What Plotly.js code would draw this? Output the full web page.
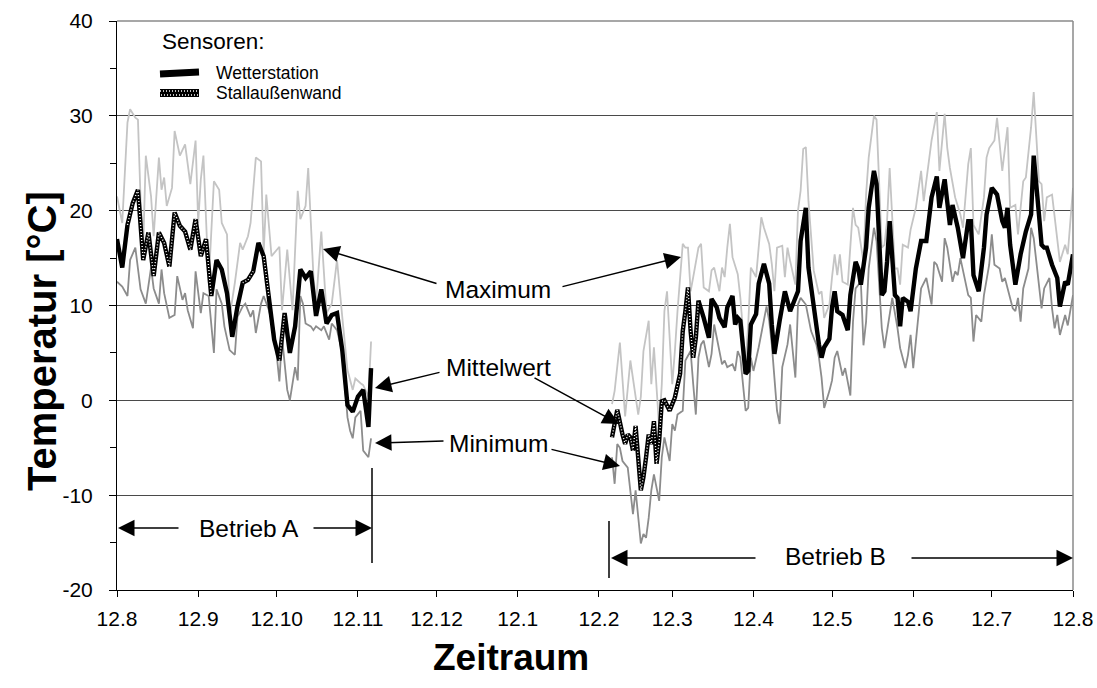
<!DOCTYPE html>
<html>
<head>
<meta charset="utf-8">
<script src="https://cdn.plot.ly/plotly-3.0.1.min.js"></script>
<style>html,body{margin:0;padding:0;background:#fff;}#chart{width:1097px;height:688px;}</style>
</head>
<body>
<div id="chart"></div>
<script>
// ---- data (day offsets from 1 Aug 2012, temperature in °C) ----
const tickLabels = ['12.8','12.9','12.10','12.11','12.12','12.1','12.2','12.3','12.4','12.5','12.6','12.7','12.8'];
const yTickVals = [-20,-10,0,10,20,30,40];
const yTickLabels = ['-20','-10','0','10','20','30','40'];

// Betrieb A
const maxA_day = [0,2,4,5,7,8,9,10,11,13,14,16,17,18,19,21,22,24,26,27,28,30,31,32,33,35,37,39,40,42,43,45,47,48,50,51,53,55,56,57,59,62,63,65,67,69,70,72,73,75,76,78,80,82,84,86,88,90,91,93,94,96,97];
const maxA = [21.5,18.7,29.3,30.7,29.8,29.6,21.2,16.2,25.8,21.5,17.3,25.6,22.2,23.5,20.5,22.4,28.4,25.8,27.0,24.7,22.8,27.4,18.7,23.3,25.8,12.4,23.1,22.2,18.7,17.5,8.8,12.4,16.6,15.9,17.3,18.7,25.6,25.2,15.5,21.7,15.2,16.2,9.5,15.9,9.5,22.1,19.1,20.5,24.5,13.1,10.2,17.8,9.2,10.2,14.8,8.8,3.2,1.1,2.3,1.8,1.6,0.4,6.2];

const meanA_day = [0,2,4,6,8,10,12,14,16,18,20,22,24,26,28,30,32,34,36,38,40,42,44,46,48,50,52,54,56,58,60,62,64,66,68,70,72,74,76,78,80,82,84,86,88,90,92,94,96,97];
const meanA = [17.0,14.0,18.5,20.8,22.2,14.8,17.7,13.1,17.7,16.6,14.1,19.8,18.4,17.8,15.9,19.1,15.2,17.0,11.0,14.8,13.8,11.3,6.7,9.9,12.4,12.7,13.6,16.6,15.2,11.0,6.4,4.2,9.2,5.0,7.8,13.8,12.9,13.6,8.9,11.7,8.1,9.0,9.2,5.3,-0.5,-1.2,0.4,1.1,-2.8,3.4];

const minA_day = [0,2,4,5,7,8,9,11,13,14,16,17,18,20,22,23,25,26,27,29,30,32,33,35,37,38,40,41,43,45,46,48,49,51,52,53,55,56,58,60,62,63,65,66,68,69,70,71,72,74,75,76,78,79,81,82,84,86,88,89,90,91,93,94,96,97];
const minA = [12.5,12.0,11.0,14.8,16.1,13.8,11.7,10.2,14.0,11.8,10.2,13.8,11.3,8.7,9.0,13.1,10.6,11.3,9.5,7.6,13.6,9.2,11.3,11.0,5.0,11.7,10.2,7.8,5.3,4.8,8.8,9.9,10.2,8.8,9.5,7.1,10.2,11.0,9.5,7.4,2.0,6.7,1.1,0.0,3.5,2.1,11.0,10.2,8.1,7.8,7.4,7.8,7.4,7.8,6.4,8.1,7.4,5.0,-1.8,-3.2,-4.0,-1.8,-1.1,-5.3,-6.0,-4.0];

// Betrieb B
const maxB_day = [189,190,192,194,196,197,199,200,201,203,204,205,207,208,209,210,212,213,214,216,217,218,219,220,222,223,224,226,227,228,230,231,232,233,234,235,237,238,240,241,242,244,246,247,249,250,251,252,254,255,256,257,259,260,261,262,263,264,266,268,269,270,272,273,274,275,276,277,279,281,282,283,285,286,287,289,290,292,293,294,295,297,298,299,300,302,303,305,307,308,310,311,313,314,316,317,318,320,322,323,325,326,327,329,331,332,333,335,336,338,340,341,343,344,346,347,349,350,352,353,354,355,357,359,360,362,363,365];
const maxB = [-0.4,1.0,6.1,-1.7,4.2,2.1,-1.5,0.4,5.2,8.4,1.7,5.6,-2.9,1.7,9.4,11.5,1.7,5.2,9.4,16.5,16.1,16.1,11.5,13.0,16.1,16.5,11.9,11.5,13.7,14.0,11.5,14.0,13.0,16.1,18.6,15.1,13.3,10.8,3.8,8.0,14.0,13.0,19.3,18.2,16.5,14.4,11.5,16.1,16.3,13.0,16.1,14.7,12.2,20.0,22.1,26.5,26.7,21.0,13.7,11.2,11.5,8.7,10.1,13.0,15.4,13.2,15.4,12.5,12.2,20.3,18.5,18.2,14.6,21.7,25.6,30.0,29.6,16.1,16.4,18.9,24.5,13.9,13.9,12.2,16.4,16.1,18.0,20.3,24.2,21.0,25.2,27.4,30.4,24.2,30.2,26.6,24.5,21.4,19.6,18.2,24.9,26.6,18.5,17.5,21.4,25.6,26.6,27.4,29.8,24.2,28.8,20.3,20.6,17.5,23.1,23.5,28.8,32.5,23.1,22.8,18.9,21.4,21.7,17.1,14.6,16.4,15.4,22.4];

const meanB_day = [189,191,193,194,195,196,197,198,200,201,202,203,204,205,206,207,208,209,211,212,213,215,216,217,218,219,220,221,222,224,226,227,229,230,232,233,235,236,237,238,240,241,242,244,245,247,249,250,251,253,255,257,258,260,261,263,264,266,268,269,270,272,273,274,275,277,279,280,282,283,284,286,287,289,290,292,293,294,295,297,298,299,300,302,303,305,307,309,310,311,313,314,316,318,319,321,323,325,326,327,329,331,332,334,336,338,339,340,341,343,345,347,349,350,352,353,354,355,357,359,360,362,363,365];
const meanB = [-3.9,-1.0,-3.6,-4.6,-3.6,-3.9,-5.3,-2.7,-9.5,-8.1,-6.0,-3.6,-4.6,-2.2,-6.7,-4.3,-0.1,0.0,-1.1,-0.4,0.3,2.8,7.3,9.4,11.9,7.3,4.5,6.6,10.5,8.7,6.6,10.7,9.8,8.7,7.7,9.8,11.0,8.0,8.7,8.4,2.8,3.1,8.0,9.1,12.3,14.4,12.3,8.0,4.9,8.4,11.5,9.4,10.1,11.5,16.8,20.3,14.0,9.8,5.9,4.5,5.6,6.5,9.8,11.5,9.4,9.0,7.4,11.1,14.6,13.9,12.2,16.1,20.3,24.2,22.8,11.1,11.5,14.6,18.9,11.1,10.8,7.8,10.8,10.4,9.4,13.9,16.8,16.8,19.2,21.4,23.6,20.3,23.3,18.5,20.6,18.2,15.0,18.9,18.9,13.2,11.5,16.1,19.6,22.4,21.7,18.9,18.2,20.3,16.4,12.2,15.4,17.8,19.6,25.8,19.6,16.4,16.1,16.1,14.3,12.9,9.9,12.5,12.2,15.4];

const minB_day = [189,190,191,192,193,195,197,198,200,201,202,203,204,205,207,208,209,211,212,213,214,216,217,219,220,221,222,223,224,226,227,228,229,231,232,233,235,236,237,238,240,241,242,243,245,247,248,249,250,252,253,254,256,257,259,260,261,263,264,265,267,268,269,270,272,273,274,275,277,278,280,281,282,284,285,286,287,289,290,292,293,295,296,298,299,301,302,303,304,305,306,307,309,311,312,313,315,316,317,319,320,321,322,325,326,327,328,330,331,333,334,335,337,338,339,340,342,343,344,345,346,348,349,350,352,353,354,356,357,358,359,360,362,363,365];
const minB = [-6.0,-8.8,-4.6,-5.0,-6.4,-7.1,-12.0,-9.5,-15.1,-14.1,-14.5,-12.4,-9.5,-7.8,-10.6,-6.0,-3.9,-6.4,-2.5,-3.2,-1.5,-1.1,4.2,5.2,1.7,-1.5,4.5,5.9,6.3,3.5,4.9,8.0,6.6,3.8,4.2,3.5,3.8,3.1,5.2,4.5,-1.1,-0.8,4.5,3.1,5.6,8.7,9.9,8.4,5.9,-1.1,-2.5,3.5,5.9,8.0,2.4,10.1,10.8,10.1,8.7,7.3,5.9,4.5,2.4,-0.8,1.0,2.1,4.5,5.2,2.6,3.4,0.5,8.3,11.8,12.5,5.8,8.3,13.9,18.2,16.8,7.6,5.5,9.0,10.8,7.6,5.5,3.4,4.8,6.9,3.4,6.2,9.0,11.8,12.9,10.1,14.6,14.3,12.5,17.1,16.1,12.5,13.6,13.2,15.0,11.1,10.8,6.2,9.0,8.3,11.1,14.3,17.5,14.3,13.9,12.5,12.9,11.8,9.7,9.4,10.8,8.3,11.8,13.9,18.2,17.1,12.5,9.7,11.8,12.9,9.7,7.6,9.0,6.9,9.0,7.9,11.1];

// day ranges where the mean came from the "Stallaußenwand" sensor
const hatchA = [[4,36],[48,52],[56,58],[62,64]];
const hatchB = [[189,222]];

// ---- helpers ----
const start = Date.UTC(2012,7,1);
const monthTicks = [];
for (let i=0;i<13;i++){ monthTicks.push(Math.round((Date.UTC(2012,7+i,1)-start)/86400000)); }

function subset(days, vals, ranges){
  const x=[], y=[];
  ranges.forEach((r,k)=>{
    if(k>0){x.push(null);y.push(null);}
    days.forEach((d,i)=>{ if(d>=r[0] && d<=r[1]){x.push(d);y.push(vals[i]);} });
  });
  return {x,y};
}
const L=117,R=1073,T=21,B=590;
const fx = px => (px-L)/(R-L);
const fy = py => (B-py)/(B-T);
const FONT = 'Liberation Sans, Arial, sans-serif';

const cMax='#c4c4c4', cMin='#8c8c8c';
const traces = [];
function line(x,y,color,width,dash){
  traces.push({type:'scatter',mode:'lines',x:x,y:y,line:{color:color,width:width,dash:dash||'solid'},connectgaps:false,hoverinfo:'skip',showlegend:false});
}
line(maxA_day,maxA,cMax,1.8);
line(maxB_day,maxB,cMax,1.8);
line(minA_day,minA,cMin,1.8);
line(minB_day,minB,cMin,1.8);
line(meanA_day,meanA,'#000',4.4);
line(meanB_day,meanB,'#000',4.4);
const hA = subset(meanA_day,meanA,hatchA), hB = subset(meanB_day,meanB,hatchB);
line(hA.x,hA.y,'#ffffff',1.4,'1px,2px');
line(hB.x,hB.y,'#ffffff',1.4,'1px,2px');

// ---- annotations ----
const ann = [];
function txt(px,py,t,size,opts){
  ann.push(Object.assign({xref:'paper',yref:'paper',x:fx(px),y:fy(py),text:t,showarrow:false,
    font:{family:FONT,size:size,color:'#000'},xanchor:'center',yanchor:'middle'},opts||{}));
}
function arrow(tx,ty,sx,sy){
  ann.push({xref:'paper',yref:'paper',x:fx(tx),y:fy(ty),ax:sx-tx,ay:sy-ty,axref:'pixel',ayref:'pixel',
    text:'',showarrow:true,arrowhead:2,arrowsize:2.2,arrowwidth:1.5,arrowcolor:'#000'});
}
const AS = 24.5;
txt(498,289,'Maximum',AS);
txt(498,368,'Mittelwert',AS);
txt(498,443,'Minimum',AS);
arrow(323,249,438,284); arrow(681,257,561,287);
arrow(375,388,441,372); arrow(619,424,533,377);
arrow(375,443,445,441); arrow(620,466,550,449);
txt(249,528,'Betrieb A',AS);
arrow(118,528,180,528); arrow(372,528,312,528);
txt(835,556,'Betrieb B',AS);
arrow(611,558,757,558); arrow(1073,558,910,558);
txt(160,42,'Sensoren:',22.5,{xanchor:'left'});
txt(214,73,'Wetterstation',17.5,{xanchor:'left'});
txt(214,93,'Stallaußenwand',17.5,{xanchor:'left'});
txt(511,657,'Zeitraum',37,{font:{family:FONT,size:37,color:'#000',weight:'bold'}});
txt(42,341,'Temperatur [°C]',40,{textangle:-90,font:{family:FONT,size:40,color:'#000',weight:'bold'}});

// ---- shapes ----
const shp = [];
function seg(x0,y0,x1,y1,color,width,dash){
  shp.push({type:'line',xref:'paper',yref:'paper',x0:fx(x0),y0:fy(y0),x1:fx(x1),y1:fy(y1),line:{color:color,width:width,dash:dash||'solid'}});
}
seg(L,T,R,T,'#8a8a8a',1.5);
seg(R,T,R,B,'#8a8a8a',1.5);
seg(372,468,372,563,'#000',1.5);
seg(609,521,609,578,'#000',1.5);
seg(160,74,199,72,'#000',7);
seg(160,93,199,93,'#000',8);
seg(160,91,199,91,'#ffffff',1.3,'1px,2px');
seg(161,95,199,95,'#ffffff',1.3,'1px,2px');

const layout = {
  width:1097,height:688,
  margin:{l:L,r:1097-R,t:T,b:688-B,pad:0},
  paper_bgcolor:'#fff',plot_bgcolor:'#fff',
  showlegend:false,
  xaxis:{range:[0,365],tickvals:monthTicks,ticktext:tickLabels,ticks:'outside',ticklen:6,tickwidth:1,tickcolor:'#000',
    showline:true,linecolor:'#000',linewidth:1,showgrid:false,zeroline:false,
    tickfont:{family:FONT,size:21,color:'#000'},ticklabelstandoff:4,fixedrange:true},
  yaxis:{range:[-20,40],tickmode:'array',tickvals:yTickVals,ticktext:yTickLabels,ticks:'outside',ticklen:7,tickwidth:1,tickcolor:'#000',
    minor:{dtick:5,tick0:0,ticks:'outside',ticklen:6,tickcolor:'#000',showgrid:false},
    showline:true,linecolor:'#000',linewidth:1,showgrid:true,gridcolor:'#4a4a4a',gridwidth:1,zeroline:false,
    tickfont:{family:FONT,size:21,color:'#000'},ticklabelstandoff:12,fixedrange:true},
  annotations:ann,
  shapes:shp
};
Plotly.newPlot('chart',traces,layout,{displayModeBar:false,staticPlot:true});
</script>
</body>
</html>
